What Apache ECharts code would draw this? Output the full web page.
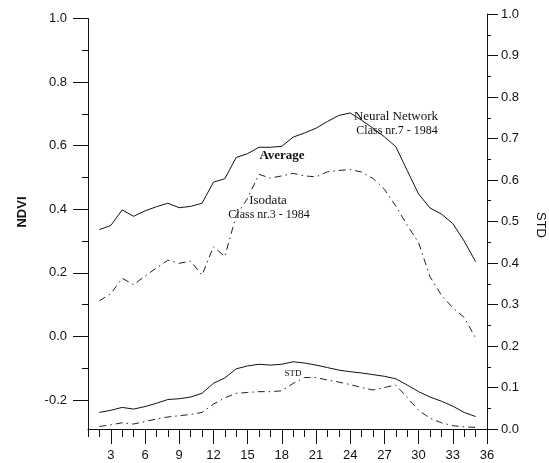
<!DOCTYPE html>
<html>
<head>
<meta charset="utf-8">
<script src="https://cdn.jsdelivr.net/npm/echarts@6/dist/echarts.min.js"></script>
<style>html,body{margin:0;padding:0;background:#fff}#c{width:549px;height:463px}</style>
</head>
<body>
<div id="c"></div>
<script>
// Day / period index (x axis)
const days = [2,3,4,5,6,7,8,9,10,11,12,13,14,15,16,17,18,19,20,21,22,23,24,25,26,27,28,29,30,31,32,33,34,35];
// NDVI, Neural Network class nr.7 - 1984 (left axis)
const ndviNeural = [0.336,0.349,0.398,0.378,0.395,0.408,0.419,0.405,0.409,0.419,0.485,0.496,0.563,0.575,0.595,0.595,0.598,0.627,0.640,0.655,0.676,0.695,0.703,0.680,0.655,0.628,0.597,0.522,0.448,0.404,0.385,0.355,0.300,0.235];
// NDVI, Isodata class nr.3 - 1984 (left axis)
const ndviIsodata = [0.112,0.135,0.183,0.163,0.190,0.215,0.240,0.230,0.237,0.193,0.282,0.252,0.380,0.435,0.510,0.498,0.505,0.513,0.505,0.502,0.518,0.522,0.525,0.517,0.497,0.463,0.410,0.350,0.295,0.188,0.130,0.090,0.060,-0.005];
// STD, Neural Network (right axis)
const stdNeural = [0.040,0.045,0.052,0.048,0.054,0.062,0.071,0.073,0.077,0.086,0.110,0.123,0.145,0.152,0.156,0.154,0.156,0.162,0.159,0.154,0.148,0.142,0.138,0.135,0.131,0.127,0.121,0.106,0.090,0.077,0.067,0.055,0.040,0.030];
// STD, Isodata (right axis)
const stdIsodata = [0.006,0.010,0.015,0.012,0.018,0.024,0.029,0.032,0.035,0.040,0.060,0.075,0.086,0.088,0.090,0.090,0.092,0.110,0.124,0.124,0.118,0.113,0.107,0.100,0.094,0.100,0.106,0.076,0.045,0.026,0.015,0.008,0.005,0.004];
// Tick labels
const xLabelTicks = [3,6,9,12,15,18,21,24,27,30,33,36];
const leftLabelTicks = [-0.2,0.0,0.2,0.4,0.6,0.8,1.0];
const leftMinorTicks = [-0.1,0.1,0.3,0.5,0.7,0.9];
const rightMinorTicks = [0.05,0.15,0.25,0.35,0.45,0.55,0.65,0.75,0.85,0.95];

const pair = (xs, ys) => xs.map((x, i) => [x, ys[i]]);
const chart = echarts.init(document.getElementById('c'), null, {renderer: 'canvas'});
const ink = '#111';
const sans = '"Liberation Sans", Arial, sans-serif';
const serif = '"Liberation Serif", "Times New Roman", serif';
const dashDot = [7, 4, 1.5, 4];

const option = {
  backgroundColor: '#fff',
  animation: false,
  grid: [
    {left: 88, right: 62, top: 18.5, bottom: 34},
    {left: 88, right: 62, top: 14, bottom: 34}
  ],
  xAxis: [
    {type: 'value', gridIndex: 0, position: 'bottom', min: 1, max: 36, interval: 1,
     axisLine: {show: true, onZero: false, lineStyle: {color: ink, width: 1}},
     axisTick: {show: true, length: 8, lineStyle: {color: ink}},
     axisLabel: {show: false}, splitLine: {show: false}},
    {type: 'value', gridIndex: 0, position: 'bottom', min: 1, max: 36,
     axisLine: {show: false, onZero: false},
     axisTick: {show: true, length: 15, customValues: xLabelTicks, lineStyle: {color: ink}},
     axisLabel: {show: true, customValues: xLabelTicks, margin: 20, color: ink, fontFamily: sans, fontSize: 13},
     splitLine: {show: false}},
    {type: 'value', gridIndex: 1, min: 1, max: 36, show: false, axisLine: {onZero: false}}
  ],
  yAxis: [
    {type: 'value', gridIndex: 0, position: 'left', min: -0.291, max: 1.0,
     axisLine: {show: true, onZero: false, lineStyle: {color: ink, width: 1}},
     axisTick: {show: true, length: 15, customValues: leftLabelTicks, lineStyle: {color: ink}},
     axisLabel: {show: true, customValues: leftLabelTicks, margin: 21, color: ink, fontFamily: sans, fontSize: 13,
                 formatter: v => Number(v).toFixed(1)},
     splitLine: {show: false}},
    {type: 'value', gridIndex: 0, position: 'left', min: -0.291, max: 1.0,
     axisLine: {show: false, onZero: false},
     axisTick: {show: true, length: 6, customValues: leftMinorTicks, lineStyle: {color: ink}},
     axisLabel: {show: false}, splitLine: {show: false}},
    {type: 'value', gridIndex: 1, position: 'right', min: 0, max: 1.0, interval: 0.1,
     axisLine: {show: true, onZero: false, lineStyle: {color: ink, width: 1}},
     axisTick: {show: true, length: 11, lineStyle: {color: ink}},
     axisLabel: {show: true, margin: 14, color: ink, fontFamily: sans, fontSize: 13,
                 formatter: v => Number(v).toFixed(1)},
     splitLine: {show: false}},
    {type: 'value', gridIndex: 1, position: 'right', min: 0, max: 1.0,
     axisLine: {show: false, onZero: false},
     axisTick: {show: true, length: 4, customValues: rightMinorTicks, lineStyle: {color: ink}},
     axisLabel: {show: false}, splitLine: {show: false}}
  ],
  series: [
    {name: 'Neural Network NDVI', type: 'line', xAxisIndex: 0, yAxisIndex: 0, data: pair(days, ndviNeural),
     showSymbol: false, lineStyle: {color: ink, width: 1}},
    {name: 'Isodata NDVI', type: 'line', xAxisIndex: 0, yAxisIndex: 0, data: pair(days, ndviIsodata),
     showSymbol: false, lineStyle: {color: '#222', width: 1, type: dashDot}},
    {name: 'Neural Network STD', type: 'line', xAxisIndex: 2, yAxisIndex: 2, data: pair(days, stdNeural),
     showSymbol: false, lineStyle: {color: ink, width: 1}},
    {name: 'Isodata STD', type: 'line', xAxisIndex: 2, yAxisIndex: 2, data: pair(days, stdIsodata),
     showSymbol: false, lineStyle: {color: '#222', width: 1, type: dashDot}}
  ],
  graphic: [
    {type: 'text', rotation: Math.PI / 2, x: 22, y: 212,
     style: {text: 'NDVI', font: 'bold 13px ' + sans, fill: ink, align: 'center', verticalAlign: 'middle'}},
    {type: 'text', rotation: -Math.PI / 2, x: 541, y: 225,
     style: {text: 'STD', font: '13px ' + sans, fill: ink, align: 'center', verticalAlign: 'middle'}},
    {type: 'text', x: 396, y: 117,
     style: {text: 'Neural Network', font: '13px ' + serif, fill: ink, align: 'center', verticalAlign: 'middle'}},
    {type: 'text', x: 397, y: 131,
     style: {text: 'Class nr.7 - 1984', font: '12px ' + serif, fill: ink, align: 'center', verticalAlign: 'middle'}},
    {type: 'text', x: 282, y: 156,
     style: {text: 'Average', font: 'bold 13px ' + serif, fill: ink, align: 'center', verticalAlign: 'middle'}},
    {type: 'text', x: 268, y: 201,
     style: {text: 'Isodata', font: '13px ' + serif, fill: ink, align: 'center', verticalAlign: 'middle'}},
    {type: 'text', x: 269, y: 215,
     style: {text: 'Class nr.3 - 1984', font: '12px ' + serif, fill: ink, align: 'center', verticalAlign: 'middle'}},
    {type: 'text', x: 293, y: 374,
     style: {text: 'STD', font: '9px ' + serif, fill: ink, align: 'center', verticalAlign: 'middle'}}
  ]
};
chart.setOption(option);
</script>
</body>
</html>
